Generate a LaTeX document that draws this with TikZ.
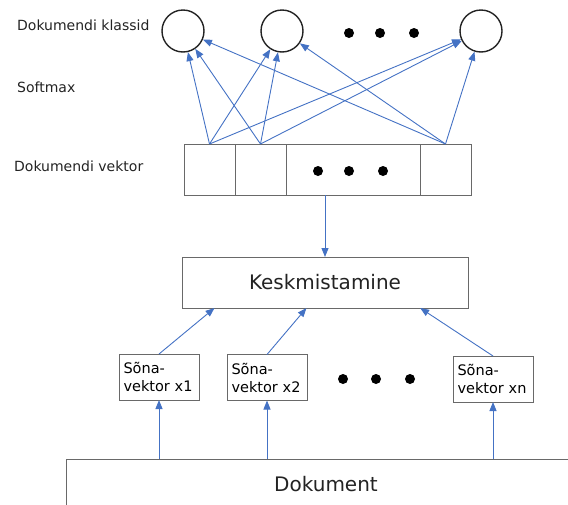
\documentclass[tikz,border=0pt]{standalone}
\usepackage{fontspec}
\setmainfont{DejaVu Sans}
\usetikzlibrary{positioning,arrows.meta}
\definecolor{myblue}{RGB}{68,114,196}
\definecolor{mygray}{RGB}{105,105,105}
\definecolor{mydark}{RGB}{35,35,35}
\newcommand{\widthcell}{51pt}
\newcommand{\widthmid}{134pt}
\newcommand{\heightcell}{51pt}
\tikzset{
    common/.style={draw=mygray, line width=0.9pt, rectangle, inner sep=0pt, outer sep=0pt},
    cell/.style={common, minimum width=\widthcell, minimum height=\heightcell},
    midcell/.style={cell, minimum width=\widthmid},
    klass/.style={draw=mydark, line width=1.4pt, circle, minimum size=42pt, inner sep=0pt},
    sona/.style={common, minimum width=80pt, minimum height=46pt, text width=71pt, align=left, inner xsep=4.5pt, font=\fontsize{14.5}{18}\selectfont},
    layer/.style={anchor=west, inner sep=0pt, text=mydark, font=\fontsize{14}{16}\selectfont},
    big/.style={text=mydark, font=\fontsize{20}{24}\selectfont},
    conn/.style={-{Triangle[length=9pt,width=7pt]}, myblue, line width=0.9pt}
}
\begin{document}
\begin{tikzpicture}[x=1pt, y=-1pt]
    \path[use as bounding box, clip] (0,0) rectangle (568,504);

    % classes
    \node[klass] (k1) at (183,31) {};
    \node[klass] (k2) at (282,31) {};
    \node[klass] (k3) at (481,31) {};
    \foreach \x in {349,380,414} \fill (\x,33) circle[radius=5pt];

    \node[layer] (lklass) at (17,25) {Dokumendi klassid};
    \node[layer] (lsoft) at (17,87) {Softmax};
    \node[layer] (lvek) at (14,166) {Dokumendi vektor};

    % document vector
    \node[cell, anchor=north west] (v1) at (184,144) {};
    \node[cell, right=0pt of v1] (v2) {};
    \node[midcell, right=0pt of v2] (v3) {};
    \node[cell, right=0pt of v3] (v4) {};
    \foreach \x in {318,349,383} \fill (\x,171) circle[radius=5pt];

    \foreach \s in {v1,v2,v4}
        \foreach \t in {k1,k2,k3}
            \draw[conn] (\s.north) -- (\t);

    % averaging
    \node[common, big, minimum width=286pt, minimum height=51pt] (kesk) at (325,282.5) {Keskmistamine};
    \draw[conn] (kesk.north |- v3.south) -- (kesk.north);

    % word vectors
    \node[sona] (s1) at (159,377) {Sõna-\\vektor x1};
    \node[sona] (s2) at (267,377.5) {Sõna-\\vektor x2};
    \node[sona] (s3) at (493,379) {Sõna-\\vektor xn};
    \foreach \x in {343,376,410} \fill (\x,379) circle[radius=5pt];

    \draw[conn] (s1.north) -- (kesk.193.7);
    \draw[conn] (s2.north) -- (kesk.234.8);
    \draw[conn] (s3.north) -- (kesk.345.3);

    % document
    \node[common, big, anchor=north west, minimum width=520pt, minimum height=50pt] (dok) at (66,459) {Dokument};
    \foreach \s in {s1,s2,s3}
        \draw[conn] (\s.south |- dok.north) -- (\s.south);
\end{tikzpicture}
\end{document}
